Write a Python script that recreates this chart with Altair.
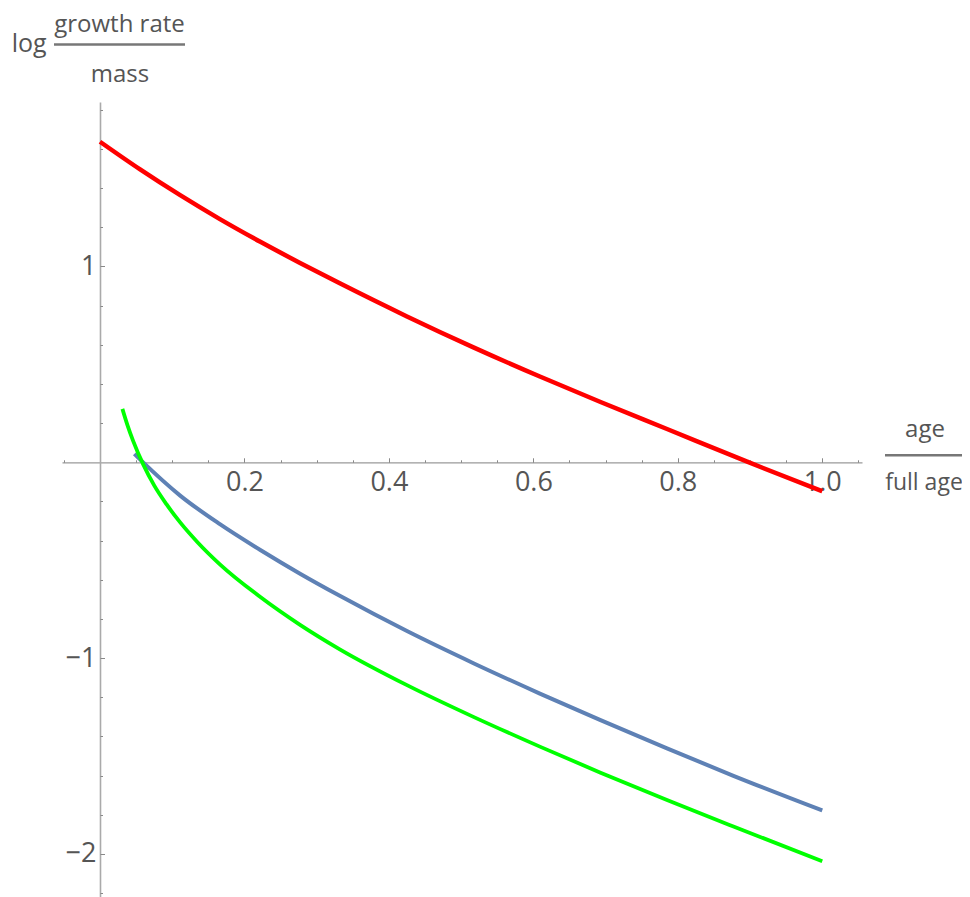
import altair as alt
import pandas as pd

# ---- data ----
red_x = [0.0, 0.055, 0.111, 0.166, 0.222, 0.277, 0.332, 0.425, 0.517, 0.609, 0.693, 0.785, 0.896, 1.0]
red_y = [1.637, 1.497, 1.364, 1.242, 1.126, 1.018, 0.914, 0.745, 0.587, 0.438, 0.308, 0.170, 0.003, -0.148]

blue_x = [0.0476, 0.059, 0.111, 0.166, 0.222, 0.277, 0.332, 0.425, 0.517, 0.609, 0.693, 0.785, 0.877, 1.0]
blue_y = [0.043, 0.002, -0.170, -0.316, -0.448, -0.569, -0.682, -0.862, -1.026, -1.181, -1.317, -1.461, -1.601, -1.778]

green_x = [0.031, 0.038, 0.046, 0.060, 0.075, 0.092, 0.111, 0.135, 0.166, 0.222, 0.277, 0.332, 0.425, 0.517, 0.609, 0.693, 0.785, 0.877, 1.0]
green_y = [0.273, 0.190, 0.108, -0.012, -0.118, -0.214, -0.307, -0.408, -0.521, -0.688, -0.830, -0.955, -1.138, -1.300, -1.452, -1.585, -1.725, -1.860, -2.037]

x_labels = [0.2, 0.4, 0.6, 0.8, 1.0]
y_labels = [-2, -1, 1]
x_minor = [round(-0.05 + 0.05 * i, 2) for i in range(23) if abs(-0.05 + 0.05 * i) > 1e-9]
y_minor = [round(-2.2 + 0.2 * i, 1) for i in range(21) if abs(-2.2 + 0.2 * i) > 1e-9]

X_MIN, X_MAX = -0.0526, 1.055
Y_MIN, Y_MAX = -2.22, 1.84
W, H = 800, 795

x0 = W * (0 - X_MIN) / (X_MAX - X_MIN)
y0 = H * (Y_MAX - 0) / (Y_MAX - Y_MIN)

FONT = "Open Sans"
FS = 27
TFS = 24
LC = "#555555"
AXC = "#9a9a9a"

xs = alt.Scale(domain=[X_MIN, X_MAX], nice=False, zero=False)
ys = alt.Scale(domain=[Y_MIN, Y_MAX], nice=False, zero=False)


def frame(xv, yv):
    return pd.DataFrame({"x": xv, "y": yv})


red_df = frame(red_x, red_y)
blue_df = frame(blue_x, blue_y)
green_df = frame(green_x, green_y)

axis_layer = alt.Chart(red_df).mark_line(interpolate="monotone", color="#ff0000", strokeWidth=4.5).encode(
    x=alt.X("x:Q", scale=xs, axis=alt.Axis(
        orient="bottom", offset=-(H - y0), values=x_labels, format=".1f",
        ticks=False, grid=False, title=None, domainColor=AXC, domainWidth=1.2,
        labelFont=FONT, labelFontSize=FS, labelColor=LC, labelPadding=7)),
    y=alt.Y("y:Q", scale=ys, axis=alt.Axis(
        orient="left", offset=-x0, values=y_labels, format="d",
        ticks=False, grid=False, title=None, domainColor="#aaaaaa", domainWidth=1.6,
        labelFont=FONT, labelFontSize=FS, labelColor=LC, labelPadding=4)),
)

blue_line = alt.Chart(blue_df).mark_line(interpolate="monotone", color="#5e81b5", strokeWidth=4).encode(
    x=alt.X("x:Q", scale=xs, axis=None), y=alt.Y("y:Q", scale=ys, axis=None))
green_line = alt.Chart(green_df).mark_line(interpolate="monotone", color="#00ff00", strokeWidth=3.8).encode(
    x=alt.X("x:Q", scale=xs, axis=None), y=alt.Y("y:Q", scale=ys, axis=None))

tick_x = {"condition": {"test": "abs(datum.value*5 - round(datum.value*5)) < 0.001", "value": 4.5}, "value": 2.5}
tick_y = {"condition": {"test": "abs(datum.value - round(datum.value)) < 0.001", "value": 4.5}, "value": 2.5}

ticks = alt.Chart(red_df).mark_point(opacity=0).encode(
    x=alt.X("x:Q", scale=xs, axis=alt.Axis(
        orient="top", offset=-y0, values=x_minor, labels=False, domain=False,
        grid=False, title=None, tickSize=tick_x, tickColor="#888888", tickWidth=1)),
    y=alt.Y("y:Q", scale=ys, axis=alt.Axis(
        orient="right", offset=-(W - x0), values=y_minor, labels=False, domain=False,
        grid=False, title=None, tickSize=tick_y, tickColor="#888888", tickWidth=1)),
)

one = pd.DataFrame({"a": [0]})


def txt(s, x, y, align="center", size=TFS):
    return alt.Chart(one).mark_text(font=FONT, fontSize=size, color=LC, align=align, baseline="alphabetic").encode(
        x=alt.value(x), y=alt.value(y), text=alt.value(s))


def bar(xa, xb, y):
    return alt.Chart(one).mark_rule(color="#777777", strokeWidth=2.5).encode(
        x=alt.value(xa), x2=alt.value(xb), y=alt.value(y))


labels = [
    txt("log", -50.3, -50.5, align="left", size=25),
    txt("growth rate", 57.5, -70),
    bar(-8, 123, -57.5),
    txt("mass", 58, -20),
    txt("age", 863, 335),
    bar(823, 906, 353.3),
    txt("full age", 862, 388, size=23),
]

chart = alt.layer(axis_layer, blue_line, green_line, ticks, *labels).resolve_axis(
    x="independent", y="independent").properties(
    width=W, height=H,
    autosize=alt.AutoSizeParams(type="none"),
    padding={"left": 54, "top": 94, "right": 100, "bottom": 0},
).configure_view(stroke=None)

chart.save("out.html", embed_options={"renderer": "svg", "actions": False})
